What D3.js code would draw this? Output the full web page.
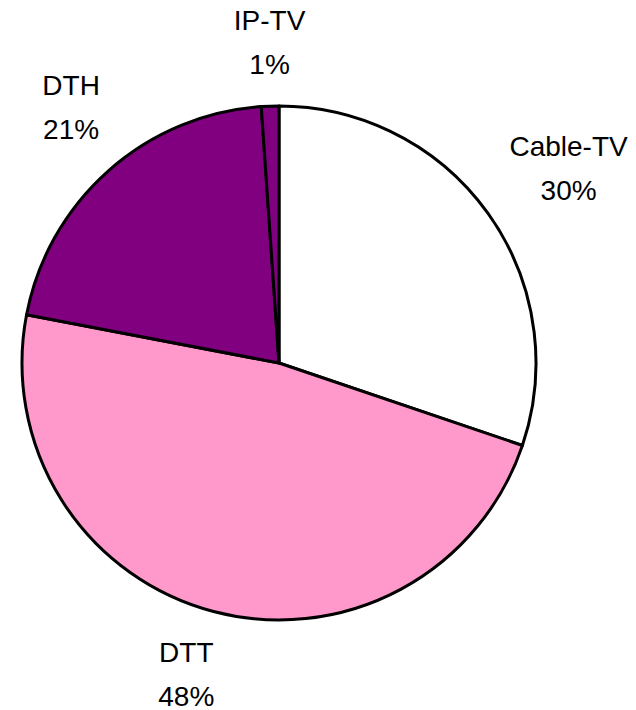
<!DOCTYPE html>
<head>
  <meta charset="utf-8">
  <script src="https://d3js.org/d3.v7.min.js"></script>
  <style>
  body{ margin: 0; background: #fff; }
  .slice{ stroke: #000; stroke-width: 3px; stroke-linejoin: round; }
  .label{ font-family: "Liberation Sans", Arial, sans-serif; font-size: 28px; fill: #000; }
  </style>
</head>
<body>
  <script>
    // chart data, clockwise from 12 o'clock
    var categories = ["Cable-TV", "DTT", "DTH", "IP-TV"];
    var shares = [30.2, 47.8, 20.9, 1.1];
    var percentLabels = ["30%", "48%", "21%", "1%"];
    var colors = ["#FFFFFF", "#FF99CC", "#800080", "#800080"];

    var dataset = categories.map(function(c, i){
      return {name: c, value: shares[i], pct: percentLabels[i], color: colors[i]};
    });

    var width = 636, height = 710,
        cx = 279, cy = 363, radius = 257;

    var svg = d3.select("body")
        .append("svg")
        .attr("width", width)
        .attr("height", height)
        .append("g")
        .attr("transform", "translate(" + cx + "," + cy + ")");

    var pie = d3.pie()
        .sort(null)
        .value(function(d){ return d.value; });

    var arc = d3.arc()
        .innerRadius(0)
        .outerRadius(radius);

    var arcs = pie(dataset);

    svg.selectAll("path")
      .data(arcs)
      .enter().append("path")
      .attr("class", "slice")
      .attr("d", arc)
      .attr("fill", function(d){ return d.data.color; });

    // labels sit on an ellipse round the pie, with small hand nudges
    var rx = 360, ry = 322;
    var nudge = {"Cable-TV": [-3, 3], "DTT": [-1, 10], "DTH": [31, -5], "IP-TV": [3, 11]};

    var labels = svg.selectAll("g.lbl")
      .data(arcs)
      .enter().append("g")
      .attr("class", "lbl")
      .attr("transform", function(d){
        var a = (d.startAngle + d.endAngle) / 2,
            n = nudge[d.data.name];
        return "translate(" + (Math.sin(a) * rx + n[0]) + "," + (-Math.cos(a) * ry + n[1]) + ")";
      });

    labels.append("text")
      .attr("class", "label")
      .attr("text-anchor", "middle")
      .attr("y", -22)
      .text(function(d){ return d.data.name; });

    labels.append("text")
      .attr("class", "label")
      .attr("text-anchor", "middle")
      .attr("y", 22)
      .text(function(d){ return d.data.pct; });
  </script>
</body>
